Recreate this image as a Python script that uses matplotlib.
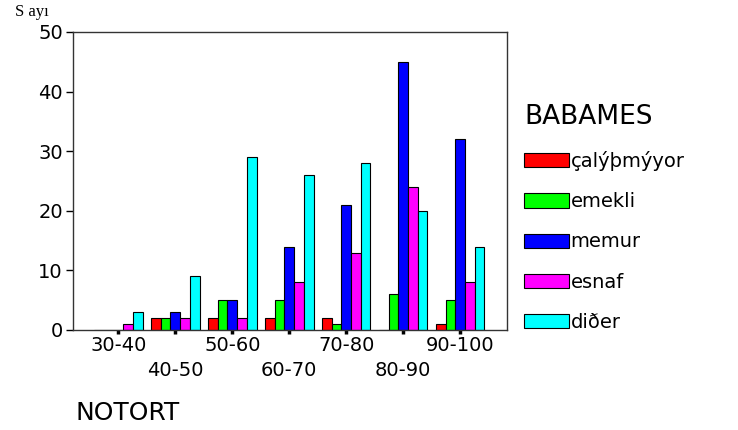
import numpy as np
import matplotlib
matplotlib.use("Agg")
import matplotlib.pyplot as plt

# veriler
notort = ['30-40', '40-50', '50-60', '60-70', '70-80', '80-90', '90-100']
babames = ['çalýþmýyor', 'emekli', 'memur', 'esnaf', 'diðer']
calismiyor = [0, 2, 2, 2, 2, 0, 1]
emekli = [0, 2, 5, 5, 1, 6, 5]
memur = [0, 3, 5, 14, 21, 45, 32]
esnaf = [1, 2, 2, 8, 13, 24, 8]
diger = [3, 9, 29, 26, 28, 20, 14]
renkler = ['#ff0000', '#00ff00', '#0000ff', '#ff00ff', '#00ffff']

plt.rcParams['font.family'] = ['DejaVu Sans']

fig = plt.figure(figsize=(7.38, 4.30), dpi=100)
ax = fig.add_axes([0.0985, 0.2326, 0.5885, 0.693])

x = np.arange(len(notort))
w = 0.17
seriler = [calismiyor, emekli, memur, esnaf, diger]
for i, (s, r, ad) in enumerate(zip(seriler, renkler, babames)):
    ax.bar(x + (i - 2) * w, s, w, color=r, edgecolor='black', linewidth=0.8, label=ad)

ax.set_xlim(-0.8, 6.82)
ax.set_ylim(0, 50)
ax.set_yticks(range(0, 51, 10))
ax.tick_params(axis='y', direction='out', length=5, width=1, labelsize=14, pad=2)

# iki sıralı x etiketleri
ax.set_xticks(x[::2])
ax.set_xticklabels(notort[::2])
ax.set_xticks(x[1::2], minor=True)
ax.set_xticklabels(notort[1::2], minor=True)
ax.tick_params(axis='x', which='both', direction='out', length=3, width=2.5, labelsize=14)
ax.tick_params(axis='x', which='major', pad=1)
ax.tick_params(axis='x', which='minor', pad=19)

for sp in ax.spines.values():
    sp.set_linewidth(1)
    sp.set_color('#333333')

fig.text(0.02, 0.972, 'S ayı', family='Liberation Serif', fontsize=12, va='center')
fig.text(0.102, 0.04, 'NOTORT', fontsize=18, va='center')

leg = ax.legend(title='BABAMES', loc='upper left', bbox_to_anchor=(1.021, 0.785),
                frameon=False, fontsize=14, title_fontsize=19,
                handlelength=2.3, handleheight=0.75, handletextpad=0.1,
                labelspacing=1.09, borderaxespad=0)
leg._legend_box.align = 'left'

fig.savefig('out.png', dpi=100)
